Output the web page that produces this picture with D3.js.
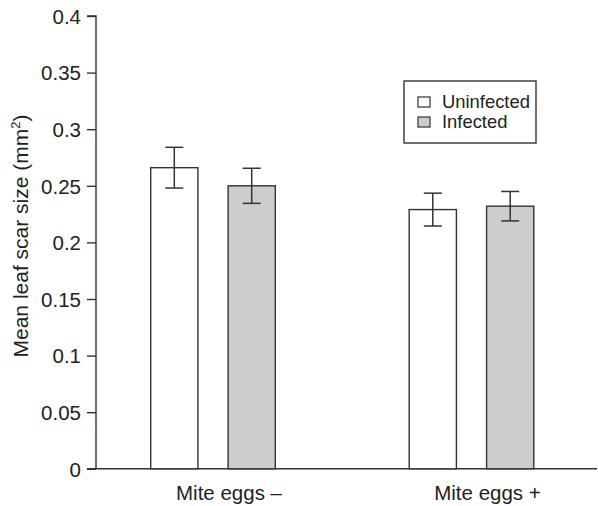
<!DOCTYPE html>
<html>
<head>
<meta charset="utf-8">
<script src="https://cdn.jsdelivr.net/npm/d3@7"></script>
<style>
  body { margin: 0; background: #fff; }
  text { font-family: "Liberation Sans", Arial, sans-serif; fill: #222; }
</style>
</head>
<body>
<div id="chart-area"></div>
<script>
// data
var groups = ["Mite eggs \u2013", "Mite eggs +"];
var series = ["Uninfected", "Infected"];
var uninfected = [0.266, 0.229];
var infected = [0.250, 0.232];
var uninfectedErr = [0.018, 0.0145];
var infectedErr = [0.0155, 0.013];
var yTicks = [0, 0.05, 0.1, 0.15, 0.2, 0.25, 0.3, 0.35, 0.4];

var W = 598, H = 506;
var ink = "#333";
var fills = { "Uninfected": "#ffffff", "Infected": "#cdcdd0" };

var svg = d3.select("#chart-area")
    .append("svg")
    .attr("width", W)
    .attr("height", H);

var axisX = 96, y0 = 468.8, yTop = 16;

var y = d3.scaleLinear()
    .domain([0, 0.4])
    .range([y0, yTop]);

var x0 = d3.scaleOrdinal()
    .domain(groups)
    .range([213, 471.5]);

var x1 = d3.scaleBand()
    .domain(series)
    .range([-62.3, 62.3])
    .paddingInner(0.39);

var rows = [];
groups.forEach((g, i) => {
    rows.push({ group: g, series: "Uninfected", value: uninfected[i], err: uninfectedErr[i] });
    rows.push({ group: g, series: "Infected", value: infected[i], err: infectedErr[i] });
});

// y axis
var yAxis = d3.axisLeft(y)
    .tickValues(yTicks)
    .tickFormat((d) => { return d3.format("~g")(d); })
    .tickSize(9)
    .tickPadding(6);

var gy = svg.append("g")
    .attr("transform", "translate(" + axisX + ",0)")
    .call(yAxis);
gy.select(".domain").attr("stroke", ink).attr("stroke-width", 1.4)
    .attr("d", "M-9," + yTop + "H0V" + y0);
gy.selectAll(".tick line").attr("stroke", ink).attr("stroke-width", 1.4);
gy.selectAll(".tick text")
    .style("font-family", "'Liberation Sans', Arial, sans-serif")
    .style("font-size", "20.5px")
    .attr("dy", "0.36em")
    .attr("fill", "#222");

// x axis line
svg.append("line")
    .attr("x1", axisX - 9).attr("x2", 597)
    .attr("y1", y0).attr("y2", y0)
    .attr("stroke", ink).attr("stroke-width", 1.4);

// bars
svg.selectAll("rect.bar").data(rows).enter()
    .append("rect")
    .attr("class", "bar")
    .attr("x", (d) => { return x0(d.group) + x1(d.series); })
    .attr("y", (d) => { return y(d.value); })
    .attr("width", x1.bandwidth())
    .attr("height", (d) => { return y0 - y(d.value); })
    .attr("fill", (d) => { return fills[d.series]; })
    .attr("stroke", ink)
    .attr("stroke-width", 1.4);

// error bars
var cap = 9;
var eb = svg.selectAll("g.err").data(rows).enter()
    .append("g")
    .attr("class", "err")
    .attr("transform", (d) => {
        return "translate(" + (x0(d.group) + x1(d.series) + x1.bandwidth() / 2) + ",0)";
    });
eb.append("line")
    .attr("y1", (d) => { return y(d.value + d.err); })
    .attr("y2", (d) => { return y(d.value - d.err); })
    .attr("stroke", ink).attr("stroke-width", 1.5);
eb.append("line")
    .attr("x1", -cap).attr("x2", cap)
    .attr("y1", (d) => { return y(d.value + d.err); })
    .attr("y2", (d) => { return y(d.value + d.err); })
    .attr("stroke", ink).attr("stroke-width", 1.5);
eb.append("line")
    .attr("x1", -cap).attr("x2", cap)
    .attr("y1", (d) => { return y(d.value - d.err); })
    .attr("y2", (d) => { return y(d.value - d.err); })
    .attr("stroke", ink).attr("stroke-width", 1.5);

// group labels
svg.selectAll("text.grp").data(groups).enter()
    .append("text")
    .attr("class", "grp")
    .attr("x", (d) => { return x0(d) + 16; })
    .attr("y", 500)
    .attr("text-anchor", "middle")
    .style("font-size", "20.5px")
    .text((d) => { return d; });

// y label
var yl = svg.append("text")
    .attr("transform", "translate(28,236) rotate(-90)")
    .attr("text-anchor", "middle")
    .style("font-size", "21px")
    .text("Mean leaf scar size (mm");
yl.append("tspan").attr("dy", -8).style("font-size", "13px").text("2");
yl.append("tspan").attr("dy", 8).text(")");

// legend
var lg = svg.append("g").attr("transform", "translate(404,81)");
lg.append("rect")
    .attr("width", 132).attr("height", 62)
    .attr("fill", "#fff").attr("stroke", ink).attr("stroke-width", 1.4);
var li = lg.selectAll("g.li").data(series).enter()
    .append("g")
    .attr("class", "li")
    .attr("transform", (d, i) => { return "translate(14," + (16 + i * 20) + ")"; });
li.append("rect")
    .attr("width", 12).attr("height", 10)
    .attr("fill", (d) => { return fills[d]; })
    .attr("stroke", ink).attr("stroke-width", 1.2);
li.append("text")
    .attr("x", 24).attr("y", 11)
    .style("font-size", "18.4px")
    .text((d) => { return d; });
</script>
</body>
</html>
